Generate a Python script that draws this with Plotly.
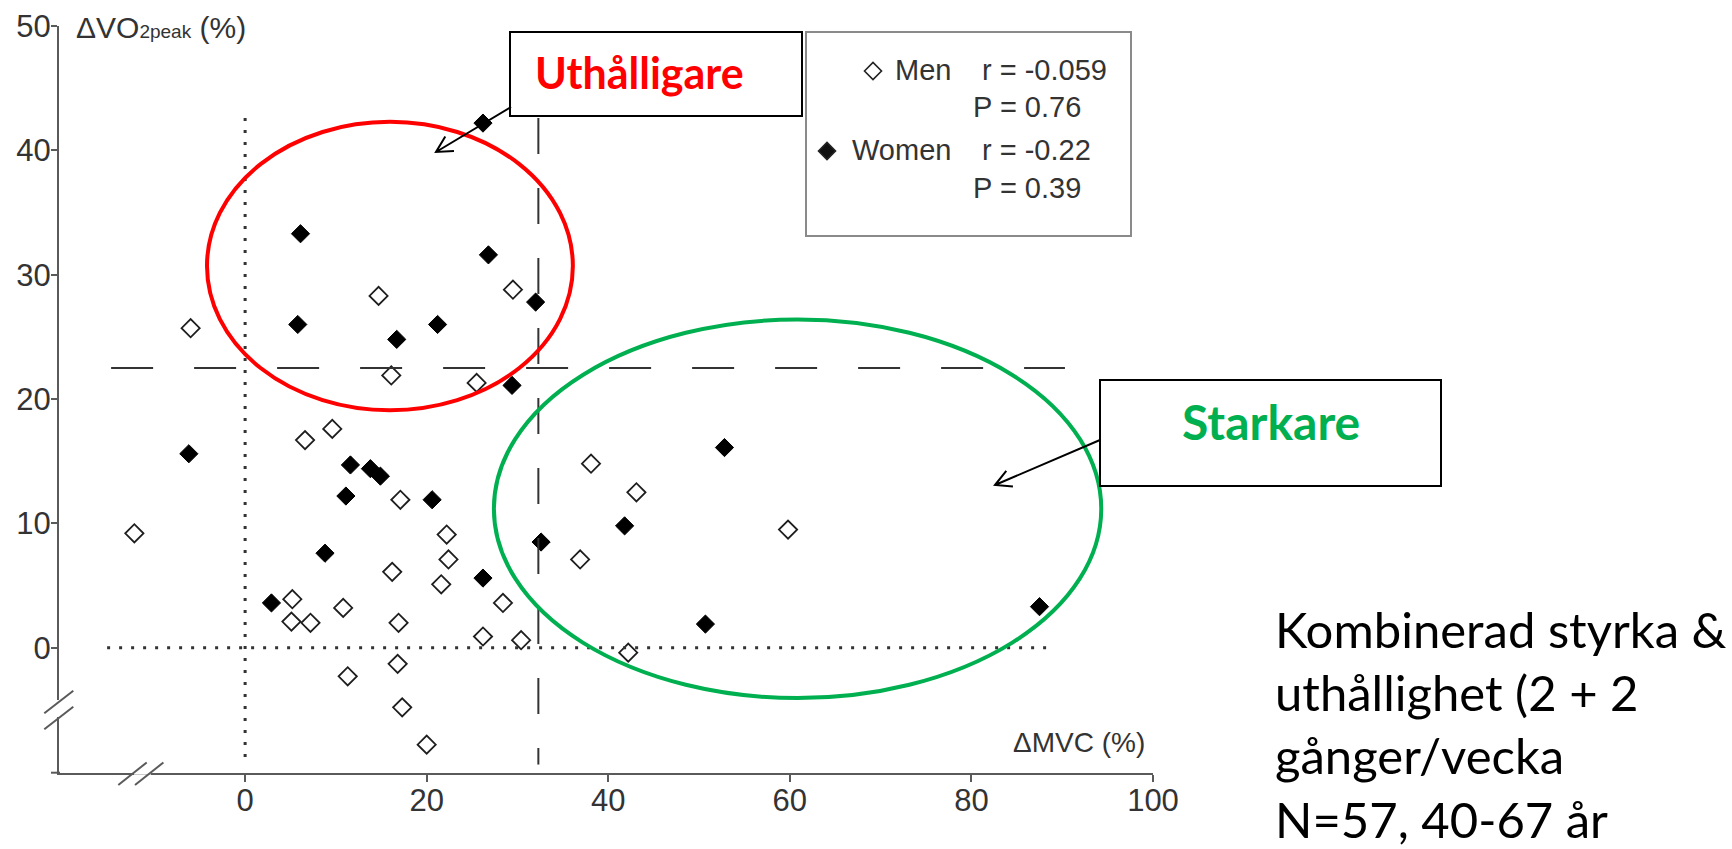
import math
import plotly.graph_objects as go

# ---------------- data ----------------
men_mvc = [14.7, 29.5, -6.0, 16.1, 25.5, 9.6, 6.6, 17.1, -12.2, 22.2, 22.4, 16.2, 21.6, 5.2, 10.8,
           28.4, 5.1, 7.2, 16.9, 26.2, 30.4, 16.8, 11.3, 17.3, 20.0, 38.1, 43.1, 59.8, 36.9, 42.2]
men_vo2 = [28.3, 28.8, 25.7, 21.9, 21.3, 17.6, 16.7, 11.9, 9.2, 9.1, 7.1, 6.1, 5.1, 3.9, 3.2,
           3.6, 2.1, 2.0, 2.0, 0.9, 0.6, -1.3, -2.3, -4.8, -7.8, 14.8, 12.5, 9.5, 7.1, -0.4]
women_mvc = [26.2, 6.1, 26.8, 32.0, 5.8, 16.7, 21.2, 29.4, -6.2, 11.6, 13.8, 14.9, 11.1, 20.6,
             8.8, 26.2, 2.9, 32.6, 52.8, 41.8, 87.5, 50.7]
women_vo2 = [42.2, 33.3, 31.6, 27.8, 26.0, 24.8, 26.0, 21.1, 15.6, 14.7, 14.4, 13.8, 12.2, 11.9,
             7.6, 5.6, 3.6, 8.5, 16.1, 9.8, 3.3, 1.9]

x_ticks = [0, 20, 40, 60, 80, 100]
y_ticks = [0, 10, 20, 30, 40, 50]
x_range = [-20.5, 100]
y_range = [-10.08, 50.01]

mvc_cut = 32.3      # vertical dashed line
vo2_cut = 22.5      # horizontal dashed line

legend_rows = [("Men", "r = -0.059", "P = 0.76"), ("Women", "r = -0.22", "P = 0.39")]
side_text = ["Kombinerad styrka &", "uthållighet (2 + 2", "gånger/vecka", "N=57, 40-67 år"]

# ---------------- layout geometry ----------------
W, H = 1732, 849
L, R, T, B = 59, 579, 26, 76
PW, PH = W - L - R, H - T - B


def px(x):
    return (x - L) / PW


def py(y):
    return (H - B - y) / PH


AX = "#333333"
AXL = "#5a5a5a"
fig = go.Figure()

fig.add_trace(go.Scatter(x=men_mvc, y=men_vo2, mode="markers", name="Men",
                         marker=dict(symbol="diamond-open", size=14, color="#1e1e1e",
                                     line=dict(width=1.8))))
fig.add_trace(go.Scatter(x=women_mvc, y=women_vo2, mode="markers", name="Women",
                         marker=dict(symbol="diamond", size=14, color="black",
                                     line=dict(width=1, color="black"))))

shapes = []
# reference lines
shapes.append(dict(type="line", xref="x", yref="y", x0=0, x1=0, y0=-8.8, y1=42.8,
                   line=dict(color=AX, width=3, dash="3px,9px")))
shapes.append(dict(type="line", xref="x", yref="y", x0=-15.2, x1=89.2, y0=0, y1=0,
                   line=dict(color=AX, width=3, dash="3px,9px")))
shapes.append(dict(type="line", xref="x", yref="y", x0=mvc_cut, x1=mvc_cut, y0=42.6, y1=-9.4,
                   line=dict(color=AX, width=2, dash="36px,34px")))
shapes.append(dict(type="line", xref="x", yref="y", x0=-14.76, x1=90.3, y0=vo2_cut, y1=vo2_cut,
                   line=dict(color=AX, width=2, dash="42px,41px")))
# ellipses
shapes.append(dict(type="circle", xref="x", yref="y", x0=-4.2, x1=36.1, y0=19.1, y1=42.3,
                   line=dict(color="#FF0000", width=4)))
shapes.append(dict(type="circle", xref="x", yref="y", x0=27.4, x1=94.3, y0=-4.05, y1=26.4,
                   line=dict(color="#00B050", width=4)))


def rect(x0, y0, x1, y1, color="black", width=2):
    return dict(type="rect", xref="paper", yref="paper", x0=px(x0), x1=px(x1), y0=py(y1), y1=py(y0),
                line=dict(color=color, width=width), fillcolor="white", layer="above")


shapes.append(rect(806, 32, 1131, 236, color="#8a8a8a", width=2))
shapes.append(rect(510, 32, 802, 116))
shapes.append(rect(1100, 380, 1441, 486))


def arrow(x0, y0, x1, y1, head=18, ang=28):
    a = math.atan2(y0 - y1, x0 - x1)
    pts = []
    for s in (1, -1):
        t = a + s * math.radians(ang)
        pts.append((x1 + head * math.cos(t), y1 + head * math.sin(t)))
    p = (f"M{px(x0)},{py(y0)} L{px(x1)},{py(y1)} "
         f"M{px(pts[0][0])},{py(pts[0][1])} L{px(x1)},{py(y1)} L{px(pts[1][0])},{py(pts[1][1])}")
    return dict(type="path", xref="paper", yref="paper", path=p, line=dict(color="black", width=2))


shapes.append(arrow(511, 107, 436, 152))
shapes.append(arrow(1100, 440, 995, 485))


def diamond(cx, cy, r, filled):
    p = f"M{px(cx - r)},{py(cy)} L{px(cx)},{py(cy - r)} L{px(cx + r)},{py(cy)} L{px(cx)},{py(cy + r)} Z"
    return dict(type="path", xref="paper", yref="paper", path=p, layer="above",
                line=dict(color="#222", width=1.6), fillcolor="#111" if filled else "white")


shapes.append(diamond(873, 71, 8.5, False))
shapes.append(diamond(827, 151, 8.5, True))

# x axis line extends a little to the left of the y axis
shapes.append(dict(type="line", xref="paper", yref="paper", x0=px(51), x1=px(60),
                   y0=py(772.7), y1=py(772.7), line=dict(color=AXL, width=2), layer="above"))
# axis break marks: white gaps in the axis lines, then the slashes
shapes.append(dict(type="line", xref="paper", yref="paper", x0=px(134), x1=px(151),
                   y0=py(772.7), y1=py(772.7), line=dict(color="white", width=4), layer="above"))
shapes.append(dict(type="line", xref="paper", yref="paper", x0=px(59), x1=px(59),
                   y0=py(700), y1=py(717), line=dict(color="white", width=4), layer="above"))
for x0 in (118.3, 135):
    shapes.append(dict(type="line", xref="paper", yref="paper", x0=px(x0), x1=px(x0 + 28.4),
                       y0=py(785), y1=py(762.5), line=dict(color=AXL, width=2), layer="above"))
for y0 in (713.3, 729.3):
    shapes.append(dict(type="line", xref="paper", yref="paper", x0=px(44.3), x1=px(73.3),
                       y0=py(y0), y1=py(y0 - 22.6), line=dict(color=AXL, width=2), layer="above"))

annotations = []


def text(x, y, s, size, color=AX, family="Liberation Sans, Arial", xanchor="left", bold=False):
    annotations.append(dict(xref="paper", yref="paper", x=px(x), y=py(y), text=s, showarrow=False,
                            xanchor=xanchor, yanchor="middle",
                            font=dict(size=size, color=color, family=family,
                                      weight="bold" if bold else "normal")))


text(74, 27, 'ΔVO<span style="font-size:19px">2peak</span> (%)', 30)
text(1147, 742, "ΔMVC (%)", 28, xanchor="right")

text(639, 72, "Uthålligare", 43, color="#FF0000", family="Lato", xanchor="center", bold=True)
text(1271, 422, "Starkare", 48, color="#00B050", family="Lato", xanchor="center", bold=True)

text(953, 70, legend_rows[0][0], 29, xanchor="right")
text(980, 70, legend_rows[0][1], 29)
text(971, 107, legend_rows[0][2], 29)
text(953, 150, legend_rows[1][0], 29, xanchor="right")
text(980, 150, legend_rows[1][1], 29)
text(971, 188, legend_rows[1][2], 29)

for i, line in enumerate(side_text):
    text(1273, 629 + i * 63.2, line, 49, color="black", family="Lato")

fig.update_layout(
    width=W, height=H, margin=dict(l=L, r=R, t=T, b=B, autoexpand=False),
    paper_bgcolor="white", plot_bgcolor="white", showlegend=False,
    shapes=shapes, annotations=annotations,
    xaxis=dict(range=x_range, tickvals=x_ticks, showgrid=False, zeroline=False, showline=True,
               linecolor=AXL, linewidth=2, ticks="outside", ticklen=7, tickcolor=AXL, tickwidth=2,
               ticklabelstandoff=-8,
               tickfont=dict(family="Liberation Sans, Arial", size=31, color=AX)),
    yaxis=dict(range=y_range, tickvals=y_ticks, showgrid=False, zeroline=False, showline=True,
               linecolor=AXL, linewidth=2, ticks="outside", ticklen=6, tickcolor=AXL, tickwidth=2,
               ticklabelstandoff=-6,
               tickfont=dict(family="Liberation Sans, Arial", size=31, color=AX)),
)

fig.write_html("out.html", config={"displayModeBar": False},
               post_script="document.body.style.margin='0px';document.body.style.overflow='hidden';")
